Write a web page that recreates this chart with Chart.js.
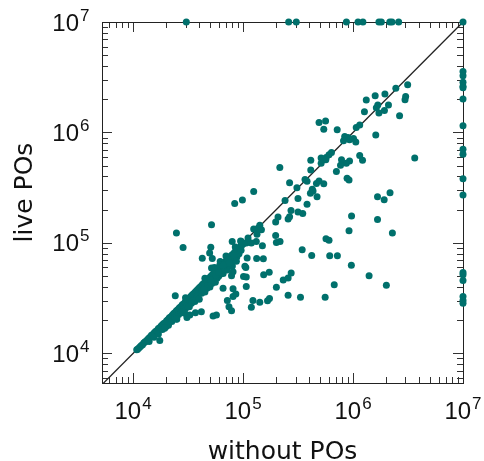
<!DOCTYPE html>
<html><head><meta charset="utf-8">
<script src="https://cdn.jsdelivr.net/npm/chart.js@4"></script>
<style>html,body{margin:0;padding:0;background:#fff}#wrap{width:484px;height:461px}</style>
</head><body><div id="wrap"><canvas id="c" width="484" height="461"></canvas></div>
<script>
// ---- labels ----
const X_TITLE = 'without POs';
const Y_TITLE = 'live POs';
const tickExponents = [4, 5, 6, 7];
// ---- axis ranges ----
const X_MIN = 5220, Y_MIN = 5400, AXIS_MAX = 1e7;
// value used for runs that hit the limit
const TIMEOUT = 1e7;
// x values (without POs) of runs whose "live POs" run timed out
const timeoutTopX = [30500, 260000, 305000, 871000, 1.11e6, 1.23e6, 1.72e6, 1.81e6, 2.16e6, 2.26e6, 2.6e6, 1e7];
// y values (live POs) of runs whose "without POs" run timed out
const timeoutRightY = [3.56e6, 3.27e6, 2.85e6, 2.62e6, 2.54e6, 2.01e6, 1.15e6, 7.05e5, 6.35e5, 3.82e5, 2.71e5, 54100, 51500, 45700, 32700, 30100, 28500];
// points on / near the diagonal  [without POs, live POs]
const diagonalBand = [
 [10800,10800],[11000,10900],[11300,11200],[11600,11500],[11900,11800],[12200,12000],[12500,12400],[12800,12700],
 [13100,12900],[13500,13300],[13900,13700],[14300,14100],[14700,14600],[15100,14800],[15500,15300],[16000,15800],
 [16500,16100],[17000,16800],[17500,17100],[18000,17700],[18500,18200],[19000,18700],[19600,19000],[20200,19800],
 [20800,20300],[21400,21000],[22000,21400],[22700,22200],[23400,23000],[24100,23500],[24800,24300],[25600,25000],
 [26400,25900],[27200,26500],[28000,27600],[28900,28200],[29800,29200],[30700,30000],[31600,31000],[32600,31800],
 [33600,33000],[34600,34000],[35700,34900],[36800,36000],[37900,37200],[39100,38300],[40300,39500],[41500,40600],
 [42800,42000],[44100,43200],[45500,44600],[46900,46000],[48300,47300],[49800,48800],[51300,50300],[52900,51800],
 [54500,53500],[56200,55000],[57900,56800],[59700,58500],[61500,60300],[63400,62100],[65300,64000],[67300,66000],
 [69400,68000],[71500,70000],[73700,72500],[76000,74500],[78300,76800],[80700,79100],[83200,81600],[85800,84000],
 [88400,86600],[91000,89000],[94000,92000],[97000,95000],[100000,98000],
 [14000,12800],[15500,14000],[17000,15000],[18500,16500],[20000,17500],[21000,18000],[22500,19500],[24000,21000],
 [25000,20500],[26000,22500],[27500,23500],[28500,24000],[30000,25500],[31000,27000],[32500,26500],[34000,28500],
 [35000,30000],[36500,29500],[38000,32000],[39000,33500],[40000,31000],[42000,35000],[43000,37000],[45000,36000],
 [47000,39000],[48000,41000],[50000,40000],[52000,43000],[54000,45000],[56000,44000],[58000,48000],[60000,50000],
 [62000,52000],[64000,55000],[66000,53000],[68000,58000],[70000,60000],[72000,57000],[75000,63000],[78000,66000],
 [80000,62000],[84000,72000],[88000,75000],[92000,80000],[96000,86000],
 [30000,32000],[45000,48000],[55000,60000],[62000,68000],[70000,76000],[85000,92000],[95000,104000],
 [44000,38000],[51000,46000],[57000,51000],[63000,57000],[69000,64000],[74000,68000],[82000,77000],[60000,54000]
];
// scattered points  [without POs, live POs]
const offDiagonal = [
 [2.45e6,2.52e6],[3.14e6,2.71e6],[1.95e6,2.23e6],[1.59e6,2.15e6],[1.32e6,1.97e6],[3.01e6,2.12e6],[2.97e6,1.98e6],
 [1.68e6,1.77e6],[1.63e6,1.67e6],[2.10e6,1.77e6],[1.93e6,1.58e6],[1.72e6,1.50e6],[1.27e6,1.54e6],[2.65e6,1.42e6],
 [4.91e5,1.23e6],[5.63e5,1.27e6],[5.42e5,1.07e6],[7.18e5,1.06e6],[1.07e6,1.11e6],[1.15e6,1.17e6],[1.61e6,9.5e5],
 [8.4e5,9.2e5],[9.0e5,9.0e5],[8.2e5,8.4e5],[1.01e6,8.8e5],[1.06e6,8.2e5],[9.3e5,8.6e5],
 [6.37e5,6.58e5],[6.05e5,6.3e5],[5.7e5,5.93e5],[5.42e5,5.73e5],[5.13e5,5.88e5],[5.66e5,5.65e5],[5.13e5,5.26e5],
 [4.13e5,5.6e5],[7.86e5,5.65e5],[9.3e5,5.52e5],[8.7e5,5.26e5],[7.7e5,5.06e5],[1.15e6,6.2e5],[1.22e6,5.6e5],
 [3.64e6,5.88e5],[2.16e5,4.81e5],[4.13e5,4.58e5],[7.06e5,4.43e5],[8.83e5,3.85e5],[9.2e5,3.71e5],[3.66e5,3.76e5],
 [3.82e5,3.61e5],[2.65e5,3.51e5],[3.09e5,3.16e5],[4.91e5,3.63e5],[4.65e5,3.45e5],[5.42e5,3.43e5],[4.26e5,3.06e5],
 [4.1e5,2.82e5],[4.33e5,2.95e5],[4.71e5,2.62e5],[1.25e5,2.93e5],[8.4e4,2.28e5],[9.87e4,2.45e5],[2.41e5,2.42e5],
 [3.16e5,2.52e5],[3.82e5,2.24e5],[1.67e6,2.62e5],[1.92e6,2.46e5],[2.17e6,2.84e5],
 [2.73e5,1.97e5],[2.65e5,1.73e5],[3.16e5,1.91e5],[3.49e5,1.85e5],[9.7e5,1.75e5],[1.67e6,1.63e5],[2.08e5,1.72e5],
 [1.98e5,1.55e5],[2.57e5,1.65e5],[5.17e4,1.46e5],[1.42e5,1.45e5],[1.37e5,1.36e5],[1.25e5,1.34e5],[1.47e5,1.32e5],
 [1.34e5,1.2e5],[2.48e4,1.23e5],[2.85e4,9.1e4],[9.2e5,1.29e5],[2.28e6,1.23e5],[1.98e5,1.17e5],[2.01e5,1.01e5],
 [2.17e5,1.03e5],[5.68e5,1.09e5],[6.05e5,1.06e5],[7.97e4,1.03e5],[9.66e4,1.03e5],[1.07e5,1.0e5],[1.19e5,1.0e5],
 [1.32e5,1.03e5],[1.5e5,9.45e4],[1.11e5,1.11e5],[5.09e4,9.15e4],[3.45e5,8.7e4],[4.26e4,7.28e4],[5.25e4,7.23e4],
 [1.09e5,7.31e4],[1.33e5,7.25e4],[1.53e5,7.2e4],[4.21e5,7.68e4],[6.14e5,7.65e4],[7.21e5,7.65e4],[9.66e5,6.3e4],
 [1.4e6,5.06e4],[2.01e6,4.15e4],[6.75e5,4.18e4],[5.58e5,3.23e4],[3.33e5,3.23e4],[2.57e5,3.37e4],[2.74e5,5.34e4],
 [2.32e5,4.61e4],[2.57e5,4.81e4],[1.73e5,5.43e4],[1.54e5,5.16e4],[2.01e5,3.98e4],[1.23e5,3.02e4],[1.19e5,2.62e4],
 [1.42e5,2.9e4],[1.74e5,3.14e4],[1.67e5,3.0e4],[1.07e5,4.03e4],[1.07e5,4.91e4],[1.06e5,6.0e4],[8.6e4,3.45e4],
 [8.11e4,3.27e4],[7.2e4,3.02e4],[7.45e4,2.65e4],[7.86e4,2.44e4],[6.58e4,3.9e4],[8.11e4,3.86e4],[5.73e4,2.23e4],
 [5.34e4,2.18e4],[4.18e4,2.39e4],[3.28e4,2.23e4],[3.09e4,2.12e4],[2.48e4,2.04e4],[1.75e4,1.31e4],[1.94e4,1.69e4],
 [2.42e4,3.32e4],[2.95e4,2.31e4],[3.69e4,2.34e4],[4.97e4,8.11e4],[6.14e4,6.3e4],[7.31e4,7.04e4],[8.11e4,5.5e4],
 [7.86e4,5.06e4],[5.17e4,5.93e4],[6.58e4,6.3e4],[7.55e4,6.58e4],[8.7e4,6.84e4],[1.04e5,6.14e4],[1.01e5,4.97e4]
];
// reference diagonal y = x
const diagonalLine = [5000, 1e7];

const TEAL = '#00706c';
const points = []
  .concat(diagonalBand.map(p => ({x: p[0], y: p[1]})))
  .concat(offDiagonal.map(p => ({x: p[0], y: p[1]})))
  .concat(timeoutTopX.map(v => ({x: v, y: TIMEOUT})))
  .concat(timeoutRightY.map(v => ({x: TIMEOUT, y: v})));

const frameTicks = {
  id: 'frameTicks',
  beforeDatasetsDraw(chart) {
    const {ctx, chartArea: a, scales: {x, y}} = chart;
    ctx.save();
    ctx.strokeStyle = '#333';
    ctx.lineWidth = 1;
    ctx.beginPath();
    for (let d = 1e3; d <= 1e7; d *= 10) {
      for (let m = 1; m <= 9; m++) {
        const v = m * d;
        const len = m === 1 ? 10 : 6;
        if (v >= X_MIN && v <= AXIS_MAX) {
          const px = Math.round(x.getPixelForValue(v)) + 0.5;
          ctx.moveTo(px, a.bottom); ctx.lineTo(px, a.bottom - len);
          ctx.moveTo(px, a.top); ctx.lineTo(px, a.top + len);
        }
        if (v >= Y_MIN && v <= AXIS_MAX) {
          const py = Math.round(y.getPixelForValue(v)) + 0.5;
          ctx.moveTo(a.left, py); ctx.lineTo(a.left + len, py);
          ctx.moveTo(a.right, py); ctx.lineTo(a.right - len, py);
        }
      }
    }
    ctx.stroke();
    ctx.strokeStyle = '#222';
    ctx.strokeRect(Math.round(a.left) + 0.5, Math.round(a.top) + 0.5, Math.round(a.width), Math.round(a.height));
    ctx.restore();
  },
  afterDraw(chart) {
    const {ctx, chartArea: a, scales: {x, y}} = chart;
    ctx.save();
    ctx.fillStyle = '#111';
    ctx.textBaseline = 'alphabetic';
    const baseFont = '24px "Liberation Sans", Arial, sans-serif';
    const expFont = '17px "Liberation Sans", Arial, sans-serif';
    tickExponents.forEach(e => {
      const v = Math.pow(10, e);
      const es = String(e);
      ctx.font = baseFont; const wB = ctx.measureText('10').width;
      ctx.font = expFont; const wE = ctx.measureText(es).width;
      // x axis label
      const px = x.getPixelForValue(v);
      const left = px - (wB + wE + 1) / 2;
      ctx.textAlign = 'left';
      ctx.font = baseFont; ctx.fillText('10', left, a.bottom + 35.5);
      ctx.font = expFont; ctx.fillText(es, left + wB + 1, a.bottom + 25.5);
      // y axis label
      const py = y.getPixelForValue(v);
      const right = a.left - 12.5;
      ctx.textAlign = 'right';
      ctx.font = expFont; ctx.fillText(es, right, py - 1.5);
      ctx.font = baseFont; ctx.fillText('10', right - wE - 1, py + 8.5);
    });
    ctx.font = '25px "DejaVu Sans", sans-serif';
    ctx.textAlign = 'center';
    ctx.fillText(X_TITLE, (a.left + a.right) / 2, a.bottom + 75.5);
    ctx.translate(a.left - 70, (a.top + a.bottom) / 2 - 10);
    ctx.rotate(-Math.PI / 2);
    ctx.fillText(Y_TITLE, 0, 0);
    ctx.restore();
  }
};

const hiddenAxis = (min) => ({
  type: 'logarithmic', min: min, max: AXIS_MAX,
  ticks: {display: false}, grid: {display: false, drawTicks: false},
  border: {display: false}, title: {display: false}
});

new Chart(document.getElementById('c'), {
  type: 'scatter',
  data: {
    datasets: [
      {label: 'instances', data: points, backgroundColor: TEAL, borderWidth: 0,
       pointRadius: 3.5, pointHoverRadius: 3.5, clip: false},
      {type: 'line', label: 'y = x', data: diagonalLine.map(v => ({x: v, y: v})),
       borderColor: '#222', borderWidth: 1.3, pointRadius: 0, fill: false, tension: 0}
    ]
  },
  options: {
    responsive: false, animation: false, devicePixelRatio: 1,
    layout: {padding: {left: 102, right: 21, top: 22, bottom: 78}},
    scales: {x: hiddenAxis(X_MIN), y: hiddenAxis(Y_MIN)},
    plugins: {legend: {display: false}, tooltip: {enabled: false}}
  },
  plugins: [frameTicks]
});
</script></body></html>
